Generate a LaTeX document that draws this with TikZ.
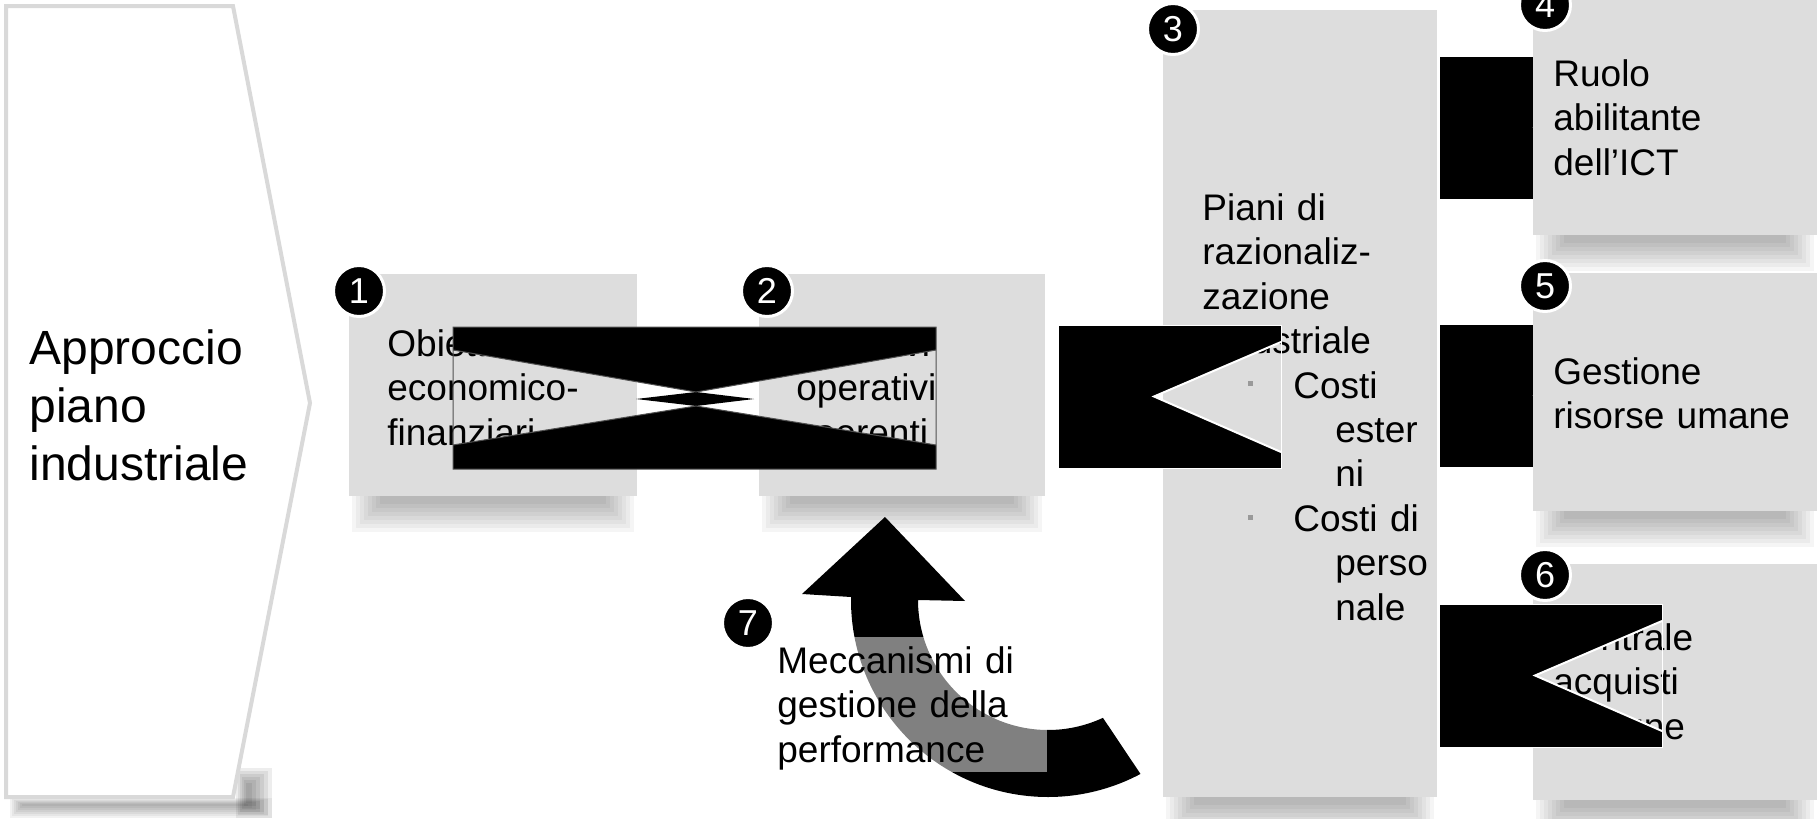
\documentclass[tikz,border=0pt]{standalone}
\usepackage{fontspec}
\setmainfont{Liberation Sans}
\usetikzlibrary{calc}
\definecolor{grigiobox}{HTML}{DDDDDD}
\definecolor{grigiobordo}{HTML}{D9D9D9}
\definecolor{grigiolinea}{HTML}{505050}
\definecolor{grigiopunto}{HTML}{999999}

\tikzset{
    testo/.style={anchor=base west, inner sep=0pt, align=left, text width=200pt,
        font=\fontsize{18.5}{22.25}\selectfont},
    numero/.style={circle, fill=black, draw=white, line width=1.5pt, minimum size=25.5pt,
        inner sep=0pt, text=white, font=\fontsize{18}{18}\selectfont},
}

\NewDocumentCommand{\ombra}{m m m}{ % x sinistra, x destra, y sotto
    \foreach \k in {0,...,7}
        \fill[black, opacity=0.04] (#1+3+4*\k,#3-4) rectangle (#2-3-4*\k,#3+36-4*\k);
}
\NewDocumentCommand{\connettore}{m m}{ % x sinistra, y alto
    \fill[black, even odd rule] (#1,#2) rectangle ++(223,143)
        (#1+96,#2+71.5) -- (#1+223,#2+17) -- (#1+223,#2+127) -- cycle;
    \draw[white, line width=0.4pt] (#1,#2) rectangle ++(223,143);
    \draw[white, line width=1pt] (#1+223,#2+17) -- (#1+96,#2+71.5) -- (#1+223,#2+127);
}

\begin{document}
\begin{tikzpicture}[x=0.5pt, y=-0.5pt]
    \useasboundingbox (0,0) rectangle (1817,819);
    \clip (0,0) rectangle (1817,819);
    % freccia grande a sinistra
    \foreach \k in {0,...,6}
        \fill[black, opacity=0.05] (10+2*\k,798+\k) rectangle (272-4*\k,818-2*\k);
    \foreach \k in {0,...,6}
        \fill[black, opacity=0.07] (236+2*\k,768+3*\k) rectangle (272-4*\k,818-3*\k);
    \draw[grigiobordo, line width=2pt, fill=white] (6,6) -- (233,6) -- (310,403) -- (233,797) -- (6,797) -- cycle;
    \node[testo, font=\fontsize{24}{29}\selectfont] (approccio) at (29,364) {Approccio\\piano\\industriale};
    % obiettivi
    \ombra{349}{637}{496}
    \ombra{759}{1045}{496}
    \fill[grigiobox] (349,274) rectangle (637,496);
    \fill[grigiobox] (759,274) rectangle (1045,496);
    \node[testo] (obiettivi1) at (387,356) {Obiettivi\\economico-\\finanziari};
    \node[testo] (obiettivi2) at (796,356) {Obiettivi\\operativi\\coerenti};
    % collegamento 1-2
    \fill (453,327) -- (936,327) -- (936,350) -- (696,392) -- (453,350) -- cycle
        (453,445) -- (696,406) -- (936,445) -- (936,469) -- (453,469) -- cycle
        (636,399) -- (696,392) -- (754,399) -- (696,406) -- cycle;
    \draw[grigiolinea, line width=0.5pt] (453,327) rectangle (936,469)
        (453,350) -- (696,392) -- (936,350)
        (453,445) -- (696,406) -- (936,445);
    % piani di razionalizzazione
    \ombra{1163}{1437}{797}
    \fill[grigiobox] (1163,10) rectangle (1437,797);
    \node[testo] (piani) at (1202,220) {Piani di\\razionaliz-\\zazione\\industriale\\
        \hspace*{45.5pt}Costi\\\hspace*{66.5pt}ester\\\hspace*{66.5pt}ni\\
        \hspace*{45.5pt}Costi di\\\hspace*{66.5pt}perso\\\hspace*{66.5pt}nale};
    \fill[grigiopunto] (1247.5,380.5) rectangle ++(5,5);
    \fill[grigiopunto] (1247.5,514.5) rectangle ++(5,5);
    \connettore{1058}{325}
    % ICT, risorse umane, acquisti
    \connettore{1439}{56}
    \connettore{1439}{324}
    \ombra{1533}{1817}{235}
    \ombra{1533}{1817}{511}
    \ombra{1533}{1817}{800}
    \fill[grigiobox] (1533,-20) rectangle (1817,235);
    \fill[grigiobox] (1533,273) rectangle (1817,511);
    \fill[grigiobox] (1533,564) rectangle (1817,800);
    \node[testo] (ict) at (1553,86) {Ruolo\\abilitante\\dell’ICT};
    \node[testo] (risorse) at (1553,384) {Gestione\\risorse umane};
    \node[testo] (acquisti) at (1553,650) {Centrale\\acquisti\\comune};
    \connettore{1439}{604}
    % meccanismi di gestione della performance
    \coordinate (c7) at (1048,600);
    \fill (918,600) -- (965,601) -- (885,517) -- (802,594) -- (851,597) -- (851,600)
        arc[start angle=180, end angle=62, radius=197]
        -- ($(c7)+(65:130)$)
        arc[start angle=65, end angle=180, radius=130] -- cycle;
    \fill[white, fill opacity=0.5] (777,637) rectangle (1047,772);
    \node[testo] (meccanismi) at (777,673) {Meccanismi di\\gestione della\\performance};
    % numeri
    \foreach \n/\x/\y in {1/359/291, 2/767/291, 3/1173/29, 4/1545/5, 5/1545/286, 6/1545/575, 7/748/623}
        \node[numero] (n\n) at (\x,\y) {\n};
\end{tikzpicture}
\end{document}
